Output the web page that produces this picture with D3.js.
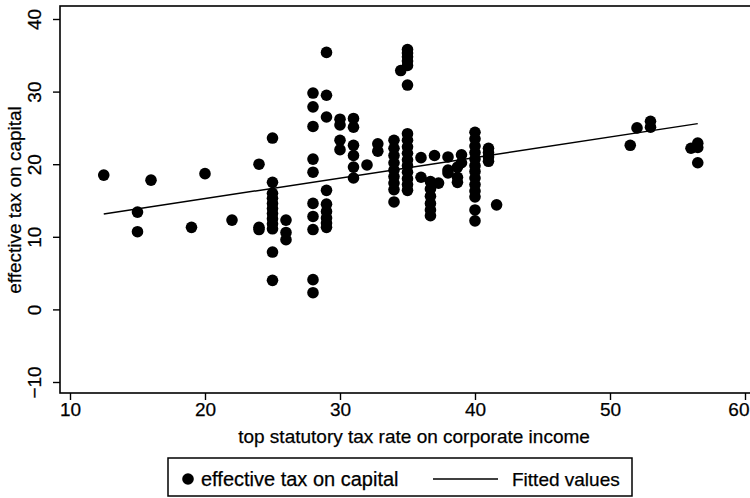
<!DOCTYPE html>
<html lang="en">
<head>
    <meta charset="UTF-8">
    <title>Effective tax on capital vs statutory rate</title>
    <script src="https://d3js.org/d3.v7.min.js"></script>
    <style>
        body { margin: 0; background: #fff; }
        text { font-family: "Liberation Sans", Arial, sans-serif; fill: #000; stroke: #000; stroke-width: 0.25; }
    </style>
</head>
<body>
    <svg width="750" height="498"></svg>

    <script>
        // statutory rate (x) and the effective rates observed at that rate
        const rates = [12.5, 15, 16, 19, 20, 22, 24, 25, 26, 28, 29, 30, 31, 32, 32.8, 34, 34.5, 35,
                       36, 36.7, 37, 37.3, 38, 38.7, 39, 40, 41, 41.6, 51.5, 52, 53, 56, 56.5];
        const effective = [
            [18.5],
            [13.4, 10.7],
            [17.8],
            [11.3],
            [18.7],
            [12.3],
            [20.0, 11.3, 11.0],
            [23.6, 17.5, 16.0, 15.3, 14.6, 13.9, 13.2, 12.5, 11.8, 11.1, 7.9, 4.0],
            [12.3, 10.6, 9.6],
            [29.8, 27.9, 25.2, 20.7, 18.9, 14.6, 12.8, 11.0, 4.1, 2.3],
            [35.4, 29.5, 26.5, 16.4, 14.5, 13.5, 12.6, 11.9, 11.3],
            [26.2, 25.4, 23.3, 22.0],
            [26.3, 25.1, 22.6, 21.2, 19.6, 18.1],
            [19.9],
            [22.8, 21.8],
            [23.3, 22.2, 21.2, 20.2, 19.2, 18.3, 17.4, 16.5, 14.8],
            [32.9],
            [35.8, 35.3, 34.8, 34.2, 33.6, 30.9, 24.2, 23.3, 22.4, 21.5, 20.6, 19.8, 18.9, 18.0, 17.2, 16.4],
            [20.9, 18.2],
            [17.6, 16.6, 15.6, 14.6, 13.7, 12.9],
            [21.2],
            [17.4],
            [21.0, 19.2, 18.8],
            [19.6, 18.2, 17.5],
            [21.3, 20.2],
            [24.4, 23.5, 22.5, 21.6, 20.7, 19.8, 19.0, 18.1, 17.2, 16.3, 15.5, 13.7, 12.2],
            [22.2, 21.6, 21.0, 20.4],
            [14.4],
            [22.6],
            [25.0],
            [25.9, 25.1],
            [22.2],
            [22.9, 22.3, 20.2]
        ];
        // linear fit
        const fitIntercept = 9.6;
        const fitSlope = 0.283;

        const xTicks = [10, 20, 30, 40, 50, 60];
        const yTicks = [-10, 0, 10, 20, 30, 40];

        const points = [];
        rates.forEach((r, i) => effective[i].forEach(v => points.push({ x: r, y: v })));

        const svg = d3.select("svg");
        const x = d3.scaleLinear().domain([10, 60]).range([70, 745]);
        const y = d3.scaleLinear().domain([-10, 40]).range([382, 19]);

        // plot frame
        svg.append("rect")
            .attr("x", 60).attr("y", 6)
            .attr("width", 700).attr("height", 387)
            .attr("fill", "none").attr("stroke", "#000").attr("stroke-width", 1.6);

        // x axis
        const xAxis = svg.append("g").attr("transform", "translate(0,393)")
            .call(d3.axisBottom(x).tickValues(xTicks).tickSize(7).tickPadding(3).tickFormat(d3.format("d")));
        xAxis.select(".domain").remove();
        xAxis.selectAll("line").attr("stroke", "#000").attr("stroke-width", 1.4);
        xAxis.selectAll("text").attr("font-size", 19).attr("fill", "#000");
        // last label sits against the right edge of the page
        xAxis.selectAll("text").filter(d => d === 60)
            .attr("text-anchor", "end").attr("x", 749 - x(60));

        // y axis (labels rotated)
        const yAxis = svg.append("g").attr("transform", "translate(60,0)")
            .call(d3.axisLeft(y).tickValues(yTicks).tickSize(7).tickFormat(d => d < 0 ? "\u2212" + Math.abs(d) : d));
        yAxis.select(".domain").remove();
        yAxis.selectAll("line").attr("stroke", "#000").attr("stroke-width", 1.4);
        yAxis.selectAll("text")
            .attr("font-size", 19).attr("fill", "#000")
            .attr("x", null).attr("dy", null)
            .attr("text-anchor", "middle")
            .attr("transform", "translate(-19,0) rotate(-90)");

        // axis titles
        svg.append("text")
            .attr("x", 414).attr("y", 443)
            .attr("text-anchor", "middle").attr("font-size", 19)
            .text("top statutory tax rate on corporate income");
        svg.append("text")
            .attr("transform", "translate(21,200) rotate(-90)")
            .attr("text-anchor", "middle").attr("font-size", 19)
            .text("effective tax on capital");

        // scatter
        svg.append("g").selectAll("circle")
            .data(points)
            .enter().append("circle")
            .attr("cx", d => x(d.x))
            .attr("cy", d => y(d.y))
            .attr("r", 5.8)
            .attr("fill", "#000");

        // fitted line
        const xr = d3.extent(points, d => d.x);
        svg.append("line")
            .attr("x1", x(xr[0])).attr("y1", y(fitIntercept + fitSlope * xr[0]))
            .attr("x2", x(xr[1])).attr("y2", y(fitIntercept + fitSlope * xr[1]))
            .attr("stroke", "#000").attr("stroke-width", 1.5);

        // legend
        const lg = svg.append("g");
        lg.append("rect")
            .attr("x", 168).attr("y", 458).attr("width", 464).attr("height", 38)
            .attr("fill", "#fff").attr("stroke", "#000").attr("stroke-width", 1.5);
        lg.append("circle").attr("cx", 188).attr("cy", 479).attr("r", 5.8).attr("fill", "#000");
        lg.append("text").attr("x", 201).attr("y", 486).attr("font-size", 20).text("effective tax on capital");
        lg.append("line").attr("x1", 433).attr("x2", 498).attr("y1", 479).attr("y2", 479)
            .attr("stroke", "#000").attr("stroke-width", 1.5);
        lg.append("text").attr("x", 512).attr("y", 486).attr("font-size", 19).text("Fitted values");
    </script>
</body>
</html>
